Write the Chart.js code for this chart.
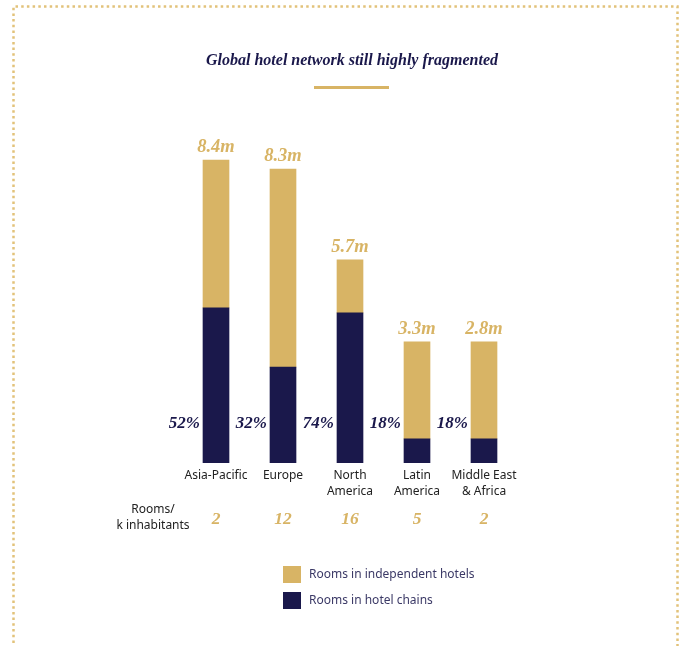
<!DOCTYPE html>
<html>
<head>
<meta charset="utf-8">
<title>Global hotel network still highly fragmented</title>
<script src="https://cdn.jsdelivr.net/npm/chart.js@4/dist/chart.umd.min.js"></script>
<style>
  html, body { margin: 0; padding: 0; background: #fff; }
  #chart { display: block; }
</style>
</head>
<body>
<canvas id="chart" width="684" height="646"></canvas>
<script>
// Data (millions of rooms, as drawn)
const regions = [['Asia-Pacific'], ['Europe'], ['North', 'America'], ['Latin', 'America'], ['Middle East', '& Africa']]
const chainRooms = [4.30, 2.66, 4.16, 0.67, 0.67]
const independentRooms = [4.10, 5.49, 1.47, 2.69, 2.69]
const totalLabels = ['8.4m', '8.3m', '5.7m', '3.3m', '2.8m']
const chainShareLabels = ['52%', '32%', '74%', '18%', '18%']
const roomsPerK = ['2', '12', '16', '5', '2']

const GOLD = '#D8B465'
const NAVY = '#1A184B'
const SERIF = '"Liberation Serif", "DejaVu Serif", serif'
const SANS = '"Noto Sans", "Open Sans", sans-serif'

/*=============== DECORATION + LABELS ===============*/
const decor = {
  id: 'decor',
  beforeDraw(chart){
    const c = chart.ctx
    c.save()
    // dotted frame
    c.strokeStyle = '#E2C27A'
    c.lineWidth = 2.5
    c.setLineDash([2.5, 3.2])
    c.beginPath()
    c.moveTo(13.5, 660)
    c.lineTo(13.5, 6.5)
    c.lineTo(677.5, 6.5)
    c.lineTo(677.5, 660)
    c.stroke()
    c.setLineDash([])

    // title
    c.fillStyle = NAVY
    c.font = 'italic bold 16px ' + SERIF
    c.textAlign = 'center'
    c.textBaseline = 'middle'
    c.fillText('Global hotel network still highly fragmented', 352, 61)
    c.fillStyle = GOLD
    c.fillRect(314, 86, 75, 3)
    c.restore()
  },
  afterDatasetsDraw(chart){
    const c = chart.ctx
    const x = chart.scales.x, y = chart.scales.y
    c.save()
    c.textBaseline = 'middle'
    regions.forEach((lines, i) => {
      const cx = x.getPixelForValue(i)
      const top = y.getPixelForValue(chainRooms[i] + independentRooms[i])
      // total on top
      c.font = 'italic bold 18.5px ' + SERIF
      c.fillStyle = GOLD
      c.textAlign = 'center'
      c.fillText(totalLabels[i], cx, top - 13)
      // chain share left of bar
      c.font = 'italic bold 17px ' + SERIF
      c.fillStyle = NAVY
      c.textAlign = 'right'
      c.fillText(chainShareLabels[i], cx - 16, 424)
      // region name
      c.font = '12px ' + SANS
      c.fillStyle = '#222'
      c.textAlign = 'center'
      lines.forEach((t, j) => c.fillText(t, cx, 476 + j * 16))
      // rooms per k inhabitants
      c.font = 'italic bold 17.5px ' + SERIF
      c.fillStyle = GOLD
      c.fillText(roomsPerK[i], cx, 519)
    })
    c.font = '12px ' + SANS
    c.fillStyle = '#222'
    c.textAlign = 'center'
    c.fillText('Rooms/', 153, 510)
    c.fillText('k inhabitants', 153, 526)

    // legend
    const items = chart.data.datasets.slice().reverse()
    items.forEach((ds, k) => {
      const ly = 566 + k * 26
      c.fillStyle = ds.backgroundColor
      c.fillRect(283, ly, 18, 17)
      c.fillStyle = '#3B3966'
      c.textAlign = 'left'
      c.font = '12px ' + SANS
      c.fillText(ds.label, 309, ly + 9)
    })
    c.restore()
  }
}

const ctx = document.getElementById('chart').getContext('2d')
new Chart(ctx, {
  type: 'bar',
  data: {
    labels: regions,
    datasets: [{
      label: 'Rooms in hotel chains',
      data: chainRooms,
      backgroundColor: NAVY,
      barThickness: 26
    }, {
      label: 'Rooms in independent hotels',
      data: independentRooms,
      backgroundColor: GOLD,
      barThickness: 26
    }]
  },
  options: {
    responsive: false,
    animation: false,
    layout: {
      padding: { left: 182.5, right: 166.5, top: 102.3, bottom: 183 }
    },
    scales: {
      x: { stacked: true, display: false },
      y: { stacked: true, display: false, min: 0, max: 10 }
    },
    plugins: {
      legend: { display: false },
      tooltip: { enabled: false }
    }
  },
  plugins: [decor]
})
</script>
</body>
</html>
